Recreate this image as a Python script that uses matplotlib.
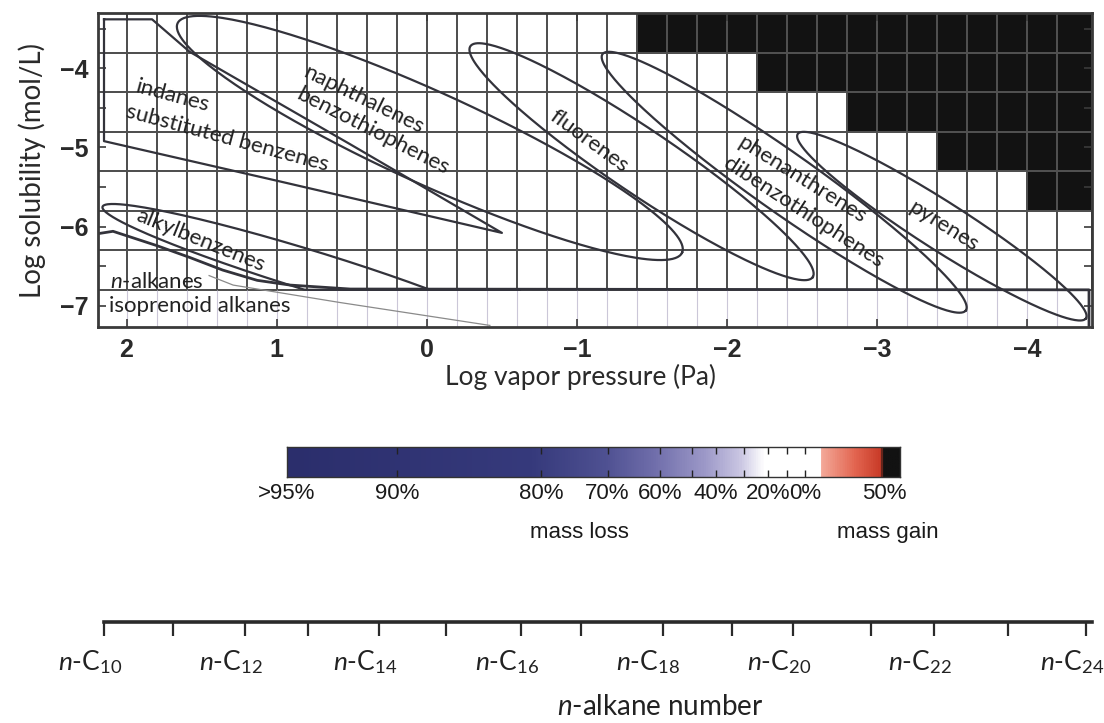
import numpy as np
import matplotlib
matplotlib.use("Agg")
import matplotlib.pyplot as plt
from matplotlib.colors import LinearSegmentedColormap
from matplotlib.transforms import ScaledTranslation

plt.rcParams["mathtext.fontset"] = "custom"
plt.rcParams["mathtext.rm"] = "Lato"
plt.rcParams["mathtext.it"] = "Lato:italic"

# ---------------- data ----------------
# cell grid: log vapor pressure (Pa) columns, log solubility (mol/L) rows
vp_edges = np.round(np.arange(2.2, -4.41, -0.2), 1)
sol_edges = np.round(np.arange(-3.3, -6.81, -0.5), 1)
# cells with >=50% mass gain, counted from the low vapor pressure side (rows top -> bottom)
gain_cells_per_row = [15, 11, 8, 5, 2, 0, 0]
gain_value = 50

# colour scale (mass loss in %, position along the bar)
loss_ticks = [95, 90, 80, 70, 60, 50, 40, 30, 20, 10, 0]
loss_tick_pos = [0.0, 0.18, 0.415, 0.523, 0.609, 0.660, 0.700, 0.745, 0.785, 0.815, 0.845]
gain_pos = 0.975
cbar_labels = [">95%", "90%", "80%", "70%", "60%", "40%", "20%", "0%", "50%"]
cbar_label_pos = [0.0, 0.18, 0.415, 0.523, 0.609, 0.700, 0.785, 0.845, 0.975]

# n-alkanes C10..C24 on the log vapor pressure scale
alkane_n = list(range(10, 25))
alkane_logvp = [2.15, 1.69, 1.21, 0.79, 0.32, -0.13, -0.63, -1.03, -1.57,
                -2.03, -2.44, -2.96, -3.38, -3.87, -4.39]

# compound classes drawn as ellipses: ends of the long axis (logVP, logS), half width (px)
region_names = ["naphthalenes", "fluorenes", "phenanthrenes", "pyrenes", "alkylbenzenes"]
region_vp1 = [1.66, -0.29, -1.17, -2.47, 2.16]
region_s1 = [-3.43, -3.72, -3.82, -4.83, -5.75]
region_vp2 = [-1.70, -2.57, -3.59, -4.39, -0.62]
region_s2 = [-6.33, -6.64, -7.06, -7.16, -7.37]
region_halfw = [46, 32, 30, 24, 20]

# indanes / substituted benzenes outline
indane_vp = [2.15, 1.83, 1.58, 0.51, -0.50, 1.00, 2.15, 2.15]
indane_s = [-3.38, -3.38, -3.79, -4.96, -6.08, -5.42, -4.92, -3.38]

# n-alkanes / isoprenoid alkanes band
alkane_edge_vp = [2.19, 2.09, 1.80, 1.58, 1.36, 1.13, 0.91, 0.51, -4.41, -4.41]
alkane_edge_s = [-6.09, -6.06, -6.24, -6.39, -6.55, -6.68, -6.74, -6.79, -6.80, -7.26]
iso_vp = [1.45, 1.29, 0.58, -0.42]
iso_s = [-6.62, -6.74, -6.96, -7.25]

# ---------------- figure ----------------
W, H = 1104, 723
fig = plt.figure(figsize=(W / 100, H / 100), dpi=100)
ax = fig.add_axes([98 / W, 1 - 327 / H, 994 / W, 314 / H])
xlim = (2.19, -4.43)
ylim = (-7.27, -3.3)
ax.set_xlim(*xlim)
ax.set_ylim(*ylim)

cmap = LinearSegmentedColormap.from_list("massloss", [
    (0.0, "#2b2e6c"), (0.40, "#363a7c"), (0.52, "#4f5192"), (0.60, "#706eab"),
    (0.68, "#9b97c7"), (0.74, "#c9c5e2"), (0.78, "#ffffff"), (0.872, "#ffffff"),
    (0.8725, "#f4aa9a"), (0.93, "#e2644f"), (0.972, "#c83a27"), (0.973, "#121212"),
    (1.0, "#121212")])

# cells
nrow, ncol = len(sol_edges) - 1, len(vp_edges) - 1
change = np.zeros((nrow, ncol))
for i, k in enumerate(gain_cells_per_row):
    if k:
        change[i, ncol - k:] = gain_value
xp = list(-np.array(loss_ticks)) + [gain_value]
fp = loss_tick_pos + [1.0]
cell_t = np.interp(change, xp, fp)
mesh_x = np.append(vp_edges[:-1], xlim[1])
ax.pcolormesh(mesh_x, sol_edges, cell_t, cmap=cmap, vmin=0, vmax=1,
              edgecolors="#505050", linewidth=1.1, zorder=1)
ax.vlines(vp_edges[1:-1], ylim[0], sol_edges[-1], color="#cbc7d8", lw=0.8, zorder=1)

line_c = "#33333b"


def outline(p1, p2, half_w, n=300):
    T = ax.transData
    a1 = T.transform(p1)
    a2 = T.transform(p2)
    c = (a1 + a2) / 2
    d = a2 - a1
    half_l = np.hypot(d[0], d[1]) / 2
    ang = np.arctan2(d[1], d[0])
    t = np.linspace(0, 2 * np.pi, n)
    u, v = half_l * np.cos(t), half_w * np.sin(t)
    xs = c[0] + u * np.cos(ang) - v * np.sin(ang)
    ys = c[1] + u * np.sin(ang) + v * np.cos(ang)
    return T.inverted().transform(np.column_stack([xs, ys]))


for i in range(len(region_names)):
    pts = outline((region_vp1[i], region_s1[i]), (region_vp2[i], region_s2[i]), region_halfw[i])
    if region_names[i] == "alkylbenzenes":
        # runs into the alkane band
        pts[:, 1] = np.maximum(pts[:, 1], sol_edges[-1])
    ax.plot(pts[:, 0], pts[:, 1], color=line_c, lw=1.6, zorder=3)

ax.plot(indane_vp, indane_s, color=line_c, lw=1.6, zorder=3)
ax.plot(alkane_edge_vp, alkane_edge_s, color=line_c, lw=2.0, zorder=3)
ax.plot(iso_vp, iso_s, color="#8a8a8a", lw=0.9, zorder=3)

# class labels
tkw = dict(fontfamily="Lato", fontsize=16, color="#222222", ha="center", va="center",
           rotation_mode="anchor", zorder=4)
ax.text(1.69, -4.35, "indanes", rotation=-15, **tkw)
ax.text(1.33, -4.88, "substituted benzenes", rotation=-15, **tkw)
ax.text(0.42, -4.40, "naphthalenes", rotation=-26, **tkw)
ax.text(0.36, -4.80, "benzothiophenes", rotation=-27, **tkw)
ax.text(1.51, -6.17, "alkylbenzenes", rotation=-22, **tkw)
ax.text(-1.08, -4.92, "fluorenes", rotation=-36, **tkw)
ax.text(-2.50, -5.40, "phenanthrenes", rotation=-32, **tkw)
ax.text(-2.51, -5.82, "dibenzothiophenes", rotation=-33, **tkw)
ax.text(-3.44, -6.00, "pyrenes", rotation=-32, **tkw)
ax.text(2.11, -6.70, r"$\mathit{n}$-alkanes", fontfamily="Lato", fontsize=16,
        color="#222222", ha="left", va="center", zorder=4)
ax.text(2.12, -7.01, "isoprenoid alkanes", fontfamily="Lato", fontsize=16,
        color="#222222", ha="left", va="center", zorder=4)

# axes styling
for s in ax.spines.values():
    s.set_linewidth(2.0)
    s.set_color("#3a3a3a")
    s.set_zorder(5)
ax.set_xticks([2, 1, 0, -1, -2, -3, -4])
ax.set_xticklabels(["2", "1", "0", "\u22121", "\u22122", "\u22123", "\u22124"])
ax.set_yticks([-4, -5, -6, -7])
ax.set_yticklabels(["\u22124", "\u22125", "\u22126", "\u22127"])
ax.set_yticks([-3.5, -4.5, -5.5, -6.5], minor=True)
ax.tick_params(which="both", direction="in", top=True, right=True, length=6,
               width=1.2, color="#3a3a3a")
ax.tick_params(axis="x", pad=8)
ax.tick_params(axis="y", pad=7)
for lab in ax.get_xticklabels() + ax.get_yticklabels():
    lab.set_fontfamily("Liberation Sans")
    lab.set_fontweight("bold")
    lab.set_fontsize(18)
    lab.set_color("#2a2a2a")
ax.set_xlabel("Log vapor pressure (Pa)", fontfamily="Lato", fontsize=19,
              color="#2a2a2a")
ax.xaxis.set_label_coords(0.485, -0.118)
ax.set_ylabel("Log solubility (mol/L)", fontfamily="Lato", fontsize=20,
              color="#2a2a2a")
ax.yaxis.set_label_coords(-0.052, 0.5)

# colour bar
cax = fig.add_axes([287 / W, 1 - 477 / H, 613 / W, 30 / H])
cax.imshow(np.linspace(0, 1, 800)[None, :], aspect="auto", cmap=cmap,
           extent=[0, 1, 0, 1], vmin=0, vmax=1)
cax.set_xlim(0, 1)
cax.set_ylim(0, 1)
cax.set_yticks([])
cax.set_xticks(loss_tick_pos[1:])
cax.set_xticklabels([])
cax.tick_params(axis="x", direction="in", top=True, length=5, width=1.0, color="#222222")
for s in cax.spines.values():
    s.set_linewidth(1.0)
    s.set_color("#333333")
for lab, p in zip(cbar_labels, cbar_label_pos):
    cax.text(p, -0.55, lab, fontfamily="Liberation Sans", fontsize=16, color="#1a1a1a",
             ha="center", va="center", transform=cax.transAxes)
cax.text(0.477, -1.85, "mass loss", fontfamily="Liberation Sans", fontsize=16,
         color="#1a1a1a", ha="center", va="center", transform=cax.transAxes)
cax.text(0.98, -1.85, "mass gain", fontfamily="Liberation Sans", fontsize=16,
         color="#1a1a1a", ha="center", va="center", transform=cax.transAxes)

# n-alkane axis
nax = fig.add_axes([98 / W, 1 - 622 / H, 994 / W, 0.0001])
nax.set_xlim(*xlim)
for side in ["top", "left", "right"]:
    nax.spines[side].set_visible(False)
nax.spines["bottom"].set_linewidth(2.6)
nax.spines["bottom"].set_color("#2a2a2a")
nax.spines["bottom"].set_bounds(alkane_logvp[0], xlim[1])
nax.set_yticks([])
nax.set_xticks(alkane_logvp)
nax.set_xticklabels([r"$\mathit{n}$-C$_{%d}$" % n if n % 2 == 0 else "" for n in alkane_n])
nax.tick_params(axis="x", direction="out", length=10, width=1.6, color="#2a2a2a",
                pad=9, labelsize=19, labelcolor="#222222")
shift = ScaledTranslation(-14 / 100, 0, fig.dpi_scale_trans)
for lab in nax.get_xticklabels():
    lab.set_fontfamily("Lato")
    lab.set_transform(lab.get_transform() + shift)
fig.text(660 / W, 1 - 707 / H, r"$\mathit{n}$-alkane number", fontfamily="Lato",
         fontsize=20, color="#222222", ha="center", va="center")

fig.savefig("out.png", dpi=100)
